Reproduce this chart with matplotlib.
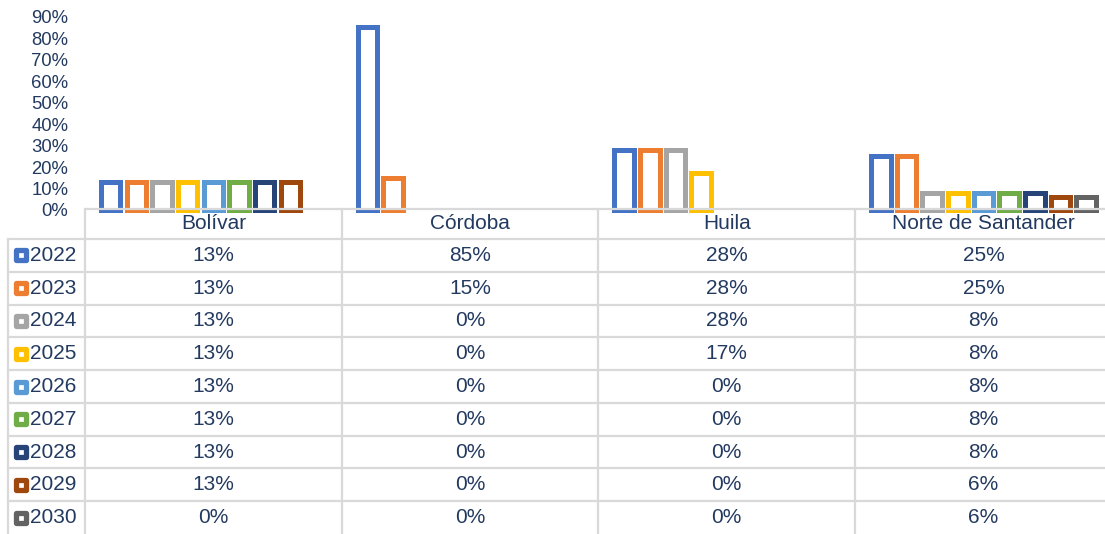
import matplotlib.pyplot as plt
import numpy as np

departamentos = ['Bolívar', 'Córdoba', 'Huila', 'Norte de Santander']
anios = ['2022', '2023', '2024', '2025', '2026', '2027', '2028', '2029', '2030']

v2022 = [0.13, 0.85, 0.28, 0.25]
v2023 = [0.13, 0.15, 0.28, 0.25]
v2024 = [0.13, 0.00, 0.28, 0.08]
v2025 = [0.13, 0.00, 0.17, 0.08]
v2026 = [0.13, 0.00, 0.00, 0.08]
v2027 = [0.13, 0.00, 0.00, 0.08]
v2028 = [0.13, 0.00, 0.00, 0.08]
v2029 = [0.13, 0.00, 0.00, 0.06]
v2030 = [0.00, 0.00, 0.00, 0.06]
series = [v2022, v2023, v2024, v2025, v2026, v2027, v2028, v2029, v2030]

colores = ['#4472C4', '#ED7D31', '#A5A5A5', '#FFC000', '#5B9BD5',
           '#70AD47', '#264478', '#9E480E', '#636363']

texto = '#233A60'
linea = '#D9D9D9'
plt.rcParams['font.family'] = ['Liberation Sans', 'DejaVu Sans']

W, H = 1105, 534
fig = plt.figure(figsize=(W / 100, H / 100), dpi=100)

# medidas en pixeles de la imagen original
col_w = 256.7
izq = 85
y0 = 210          # linea del 0%
y90 = 16.7        # linea del 90%

ax = fig.add_axes([izq / W, (H - y0) / H, 4 * col_w / W, (y0 - y90) / H])
x = np.arange(len(departamentos))
slot = 0.1
lw_px = 5
ancho = (24.6 - lw_px) / col_w

for i, (vals, c) in enumerate(zip(series, colores)):
    vals = np.array(vals)
    mask = vals > 0
    ax.bar(x[mask] + (i - 4) * slot, vals[mask], width=ancho,
           facecolor='white', edgecolor=c, linewidth=lw_px * 0.72,
           clip_on=False, zorder=3)

ax.set_xlim(-0.5, 3.5)
ax.set_ylim(0, 0.9)
ax.set_yticks(np.arange(0, 0.91, 0.1))
ax.set_yticklabels([f'{int(round(t * 100))}%' for t in np.arange(0, 0.91, 0.1)],
                   fontsize=13.3, color=texto)
ax.tick_params(axis='y', length=0, pad=12)
ax.set_xticks([])
for s in ax.spines.values():
    s.set_visible(False)

# tabla de datos
tab = fig.add_axes([izq / W, 0, 4 * col_w / W, (H - y0) / H + 0.002])
tab.set_xlim(-0.5, 3.5)
alto_tab = H - y0
tab.set_ylim(alto_tab, 0)
tab.axis('off')

def px(p):
    return (p - izq) / col_w - 0.5

cab = 30
fila = (alto_tab - cab) / len(anios)
lk = dict(color=linea, lw=1.6, clip_on=False, zorder=1)

tab.plot([-0.5, 3.6], [0, 0], **lk)
tab.plot([px(8), 3.6], [cab, cab], **lk)
for j in range(1, len(anios)):
    tab.plot([px(8), 3.6], [cab + j * fila] * 2, **lk)
for k in range(4):
    tab.plot([k - 0.5, k - 0.5], [0, alto_tab], **lk)
tab.plot([px(8), px(8)], [cab, alto_tab], **lk)

for k, d in enumerate(departamentos):
    tab.text(k, cab / 2, d, ha='center', va='center', fontsize=15, color=texto)

for j, (a, vals, c) in enumerate(zip(anios, series, colores)):
    yc = cab + (j + 0.5) * fila
    tab.scatter([px(20.5)], [yc], marker='s', s=60, facecolor='white',
                edgecolor=c, linewidth=3.8, clip_on=False, zorder=3)
    tab.text(px(30), yc, a, ha='left', va='center', fontsize=15, color=texto)
    for k, v in enumerate(vals):
        tab.text(k, yc, f'{int(round(v * 100))}%', ha='center', va='center',
                 fontsize=15, color=texto)

fig.savefig('out.png', dpi=100)
